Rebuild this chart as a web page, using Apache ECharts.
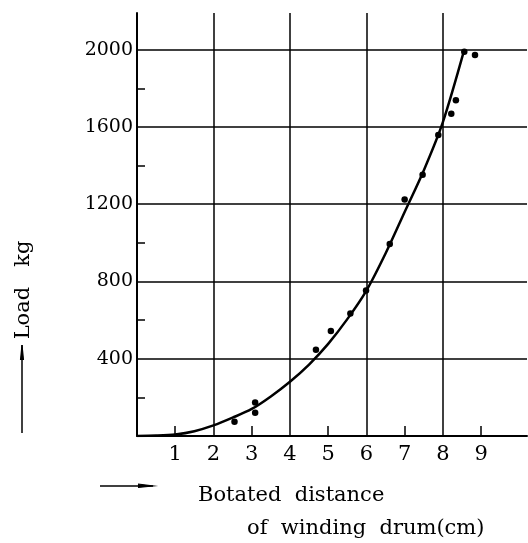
<!DOCTYPE html>
<html>
<head>
<meta charset="utf-8">
<script src="https://cdn.jsdelivr.net/npm/echarts@6/dist/echarts.min.js"></script>
<style>html,body{margin:0;padding:0;background:#fff}#c{width:528px;height:543px}</style>
</head>
<body>
<div id="c"></div>
<script>
// Fitted curve
const curveX = [0, 0.5, 1, 1.5, 2, 2.5, 3, 3.5, 4, 4.5, 5, 5.5, 6, 6.5, 7, 7.5, 8, 8.56];
const curveY = [0, 2, 8, 25, 55, 95, 140, 205, 281, 370, 477, 605, 753, 945, 1160, 1375, 1625, 2000];
// Measured points
const ptsX = [2.55, 3.09, 3.09, 4.68, 5.07, 5.58, 5.99, 6.61, 7.0, 7.47, 7.88, 8.22, 8.34, 8.56, 8.84];
const ptsY = [74, 174, 120, 446, 544, 634, 753, 994, 1225, 1352, 1559, 1668, 1738, 1990, 1973];
// Axes
const xLabels = [1, 2, 3, 4, 5, 6, 7, 8, 9];
const xTicks = [1, 3, 5, 7, 9];
const xGrid = [2, 4, 6, 8];
const yTicks = [400, 800, 1200, 1600, 2000];
const yMinorTicks = [200, 600, 1000, 1400, 1800];

const chart = echarts.init(document.getElementById('c'), null, {renderer: 'canvas'});
const serif = 'DejaVu Serif';
chart.setOption({
  animation: false,
  grid: {left: 137, right: 1, top: 13, bottom: 107},
  xAxis: {
    type: 'value', min: 0, max: 10.2,
    axisLine: {show: true, lineStyle: {color: '#000', width: 2}},
    axisTick: {show: true, inside: true, length: 10, customValues: xTicks, lineStyle: {color: '#000', width: 1.5}},
    axisLabel: {customValues: xLabels, color: '#000', fontFamily: serif, fontSize: 21, margin: 8},
    splitLine: {show: false}
  },
  yAxis: {
    type: 'value', min: 0, max: 2190, interval: 400,
    axisLine: {show: true, lineStyle: {color: '#000', width: 2}},
    axisTick: {show: true, inside: true, length: 8, customValues: yMinorTicks, lineStyle: {color: '#000', width: 1.5}},
    minorTick: {show: false},
    axisLabel: {customValues: yTicks, formatter: v => String(v), color: '#000', fontFamily: serif, fontSize: 19, margin: 4},
    splitLine: {show: false}
  },
  series: [
    {
      type: 'line',
      data: curveX.map((x, i) => [x, curveY[i]]),
      smooth: 0.3,
      showSymbol: false,
      lineStyle: {color: '#000', width: 2.5},
      markLine: {
        silent: true, symbol: 'none', label: {show: false},
        lineStyle: {color: '#000', width: 1.5, type: 'solid'},
        data: xGrid.map(v => ({xAxis: v})).concat(yTicks.map(v => ({yAxis: v})))
      },
      z: 3
    },
    {
      type: 'scatter',
      data: ptsX.map((x, i) => [x, ptsY[i]]),
      symbol: 'circle', symbolSize: 6.5,
      itemStyle: {color: '#000', opacity: 1},
      z: 4
    }
  ],
  graphic: [
    {type: 'text', left: 198, top: 485, style: {text: 'Botated  distance', fill: '#000', font: '21px "DejaVu Serif"'}},
    {type: 'text', left: 247, top: 518, style: {text: 'of  winding  drum(cm)', fill: '#000', font: '21px "DejaVu Serif"'}},
    {type: 'text', x: 24, y: 290, rotation: Math.PI / 2,
      style: {text: 'Load   kg', fill: '#000', font: '21px "DejaVu Serif"', align: 'center', verticalAlign: 'middle'}},
    {type: 'line', shape: {x1: 100, y1: 486, x2: 153, y2: 486}, style: {stroke: '#000', lineWidth: 1.5}},
    {type: 'polyline', shape: {points: [[138, 484], [153, 486], [138, 487.5]]}, style: {stroke: '#000', lineWidth: 1.2, fill: '#000'}},
    {type: 'line', shape: {x1: 22, y1: 345, x2: 22, y2: 433}, style: {stroke: '#000', lineWidth: 1.5}},
    {type: 'polyline', shape: {points: [[20.5, 360], [22, 345], [23.5, 360]]}, style: {stroke: '#000', lineWidth: 1.2, fill: '#000'}}
  ]
});
</script>
</body>
</html>
